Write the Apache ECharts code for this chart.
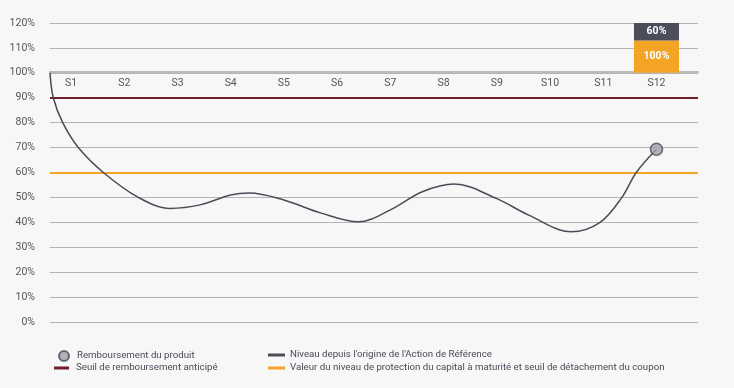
<!DOCTYPE html>
<html><head><meta charset="utf-8">
<script src="https://cdn.jsdelivr.net/npm/echarts@6/dist/echarts.min.js"></script>
<style>html,body{margin:0;padding:0;background:#f7f7f8;}#c{width:734px;height:388px;}</style>
</head><body><div id="c"></div>
<script>
// Observation dates
const categories = ['S1','S2','S3','S4','S5','S6','S7','S8','S9','S10','S11','S12'];
// Level of the reference share (position in observation periods, % of origin)
const levelX = [0.605,0.667,0.844,1.137,1.607,2.265,2.86,3.425,4,4.35,5,5.7,6.4,7,7.6,8.2,9,9.6,10.4,10.94,11.35,11.62,12];
const levelY = [100,90,80,70,60,50,45.6,47,51,51.8,49,43.7,40.2,45,52.3,55.4,49.5,42.9,36.2,40,50,60,69.3];
// Redemption point
const redemptionX = [12];
const redemptionY = [69.3];
// Thresholds
const earlyRedemptionThreshold = 90;
const protectionThreshold = 60;
// Box at S12 (segments: position, low, high)
const boxX = [12, 12];
const boxLow = [100, 113];
const boxHigh = [113, 120];
const boxLabels = ['100%', '60%'];
const yMax = 120;

const names = {
  remb: 'Remboursement du produit',
  seuil: 'Seuil de remboursement anticipé',
  niveau: "Niveau depuis l'origine de l'Action de Référence",
  valeur: 'Valeur du niveau de protection du capital à maturité et seuil de détachement du coupon'
};
const boxColors = ['#f4a425', '#4b4e5a'];

const chart = echarts.init(document.getElementById('c'), null, {renderer:'canvas'});
const lt = (pad) => ({color:'#4a4c57', fontSize:9.7, fontFamily:'Roboto, sans-serif', padding:[0,0,0,pad]});
chart.setOption({
  backgroundColor:'#f7f7f8',
  animation:false,
  textStyle:{fontFamily:'Roboto, sans-serif'},
  grid:{left:50, right:36, top:23, bottom:66},
  legend:[
    {left:53, top:345, itemWidth:10, itemHeight:10, textStyle:lt(3), selectedMode:false,
     data:[{name:names.remb, icon:'circle'}]},
    {left:49, top:358, itemWidth:15, itemHeight:3, textStyle:lt(2), selectedMode:false,
     data:[{name:names.seuil, icon:'rect'}]},
    {left:263, top:345, itemWidth:17, itemHeight:3, textStyle:lt(0), selectedMode:false,
     data:[{name:names.niveau, icon:'rect'}]},
    {left:263, top:358, itemWidth:17, itemHeight:3, textStyle:lt(0), selectedMode:false,
     data:[{name:names.valeur, icon:'rect'}]}
  ],
  xAxis:{
    type:'value', min:0.605, max:12.78, offset:-250,
    axisLine:{show:true, onZero:false, lineStyle:{color:'#bcbcbc', width:2}},
    axisTick:{show:false},
    splitLine:{show:false},
    axisLabel:{customValues:categories.map((c,i)=>i+1), formatter:v=>categories[Math.round(v)-1]||'',
      color:'#555', fontSize:10.5, margin:6}
  },
  yAxis:{
    type:'value', min:0, max:yMax, interval:10,
    axisLine:{show:false}, axisTick:{show:false},
    splitLine:{lineStyle:{color:'#b4b4b4', width:1}},
    axisLabel:{formatter:'{value}%', color:'#555', fontSize:10.5, margin:15}
  },
  series:[
    {name:names.seuil, type:'line', data:[], color:'#6e1e29', symbol:'none',
     markLine:{silent:true, symbol:'none', label:{show:false}, lineStyle:{color:'#6e1e29', width:2, type:'solid'},
       data:[{yAxis:earlyRedemptionThreshold}]}},
    {name:names.valeur, type:'line', data:[], color:'#f4a425', symbol:'none',
     markLine:{silent:true, symbol:'none', label:{show:false}, lineStyle:{color:'#f4a425', width:2, type:'solid'},
       data:[{yAxis:protectionThreshold}]}},
    {type:'custom', silent:true, z:4,
     data:boxX.map((x,i)=>[x, boxLow[i], boxHigh[i]]),
     renderItem:(params, api)=>{
       const top = api.coord([api.value(0), api.value(2)]);
       const bot = api.coord([api.value(0), api.value(1)]);
       const w = 45;
       return {type:'rect',
         shape:{x:top[0]-w/2, y:top[1], width:w, height:bot[1]-top[1]},
         style:{fill:boxColors[params.dataIndex]},
         textContent:{style:{text:boxLabels[params.dataIndex], fill:'#fff', fontWeight:'bold', fontSize:10.5, fontFamily:'Roboto, sans-serif'}},
         textConfig:{position:'inside'}};
     }},
    {name:names.niveau, type:'line', smooth:0.35, symbol:'none', color:'#4a4c57',
     lineStyle:{color:'#4a4c57', width:1.5},
     data:levelX.map((x,i)=>[x, levelY[i]]), z:5},
    {name:names.remb, type:'scatter', symbolSize:12, z:6,
     itemStyle:{color:'#9ea1a6', borderColor:'#4a4c57', borderWidth:1.5},
     data:redemptionX.map((x,i)=>[x, redemptionY[i]])}
  ]
});
</script></body></html>
